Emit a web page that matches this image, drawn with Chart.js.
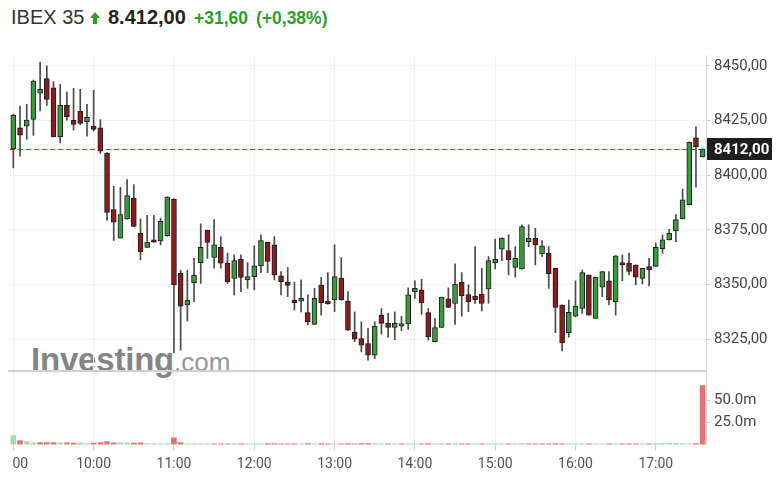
<!DOCTYPE html>
<html>
<head>
<meta charset="utf-8">
<script src="https://cdn.jsdelivr.net/npm/chart.js@4.4.0/dist/chart.umd.min.js"></script>
<style>
    html, body { margin: 0; padding: 0; background: #fff; width: 783px; height: 484px; overflow: hidden; }
    #wrap { position: relative; width: 783px; height: 484px; }
    #box { position: absolute; left: 0; top: 0; width: 783px; height: 484px; z-index: 1; }
    .hd { position: absolute; white-space: nowrap; font-family: Arial, "Liberation Sans", sans-serif; line-height: 20px; }
    #wm { position: absolute; left: 31px; top: 344px; z-index: 0; white-space: nowrap; font-family: Arial, "Liberation Sans", sans-serif; line-height: 32px; }
</style>
</head>
<body>
<div id="wrap">
    <div class="hd" style="left:11px;top:7px;font-size:20px;color:#333">IBEX 35</div>
    <svg class="hd" style="left:90px;top:12px" width="10" height="12" viewBox="0 0 10 12"><path d="M5 0 L10 6 H7 V12 H3 V6 H0 Z" fill="#2c9c2c"/></svg>
    <div class="hd" style="left:108px;top:7px;font-size:20px;font-weight:bold;color:#222">8.412,00</div>
    <div class="hd" style="left:194px;top:8px;font-size:17.5px;font-weight:bold;color:#2f9e2f">+31,60</div>
    <div class="hd" style="left:256px;top:8px;font-size:17.5px;font-weight:bold;color:#2f9e2f">(+0,38%)</div>
    <div id="wm"><span style="font-size:33px;font-weight:bold;color:#858585;letter-spacing:-0.2px">Investing</span><span style="font-size:26px;color:#969696">.com</span></div>
    <div id="box"><canvas id="myChart"></canvas></div>
</div>
<script>
// 5 minute candles, 09:00 - 17:35
const times = [
    "09:00","09:05","09:10","09:15","09:20","09:25","09:30","09:35","09:40","09:45","09:50","09:55",
    "10:00","10:05","10:10","10:15","10:20","10:25","10:30","10:35","10:40","10:45","10:50","10:55",
    "11:00","11:05","11:10","11:15","11:20","11:25","11:30","11:35","11:40","11:45","11:50","11:55",
    "12:00","12:05","12:10","12:15","12:20","12:25","12:30","12:35","12:40","12:45","12:50","12:55",
    "13:00","13:05","13:10","13:15","13:20","13:25","13:30","13:35","13:40","13:45","13:50","13:55",
    "14:00","14:05","14:10","14:15","14:20","14:25","14:30","14:35","14:40","14:45","14:50","14:55",
    "15:00","15:05","15:10","15:15","15:20","15:25","15:30","15:35","15:40","15:45","15:50","15:55",
    "16:00","16:05","16:10","16:15","16:20","16:25","16:30","16:35","16:40","16:45","16:50","16:55",
    "17:00","17:05","17:10","17:15","17:20","17:25","17:30","17:35"
];

const opens = [
    8412.1,8421.7,8422.5,8425.5,8437.6,8444.2,8440.0,8417.6,8432.0,8425.1,8429.2,8424.5,
    8422.5,8421.7,8410.2,8384.3,8371.3,8380.0,8389.6,8373.5,8367.0,8370.5,8370.0,8372.3,
    8389.1,8355.2,8340.7,8350.9,8360.1,8374.8,8362.4,8367.1,8359.8,8352.9,8361.6,8352.2,
    8353.7,8358.6,8369.4,8368.2,8354.0,8351.2,8343.0,8342.5,8337.2,8331.8,8349.8,8342.5,
    8343.0,8352.9,8342.5,8328.2,8325.4,8323.1,8317.8,8336.1,8332.3,8330.4,8331.0,8332.0,
    8346.8,8347.6,8337.2,8323.9,8330.4,8343.5,8341.4,8351.1,8345.5,8344.8,8345.7,8348.0,
    8360.1,8366.2,8365.6,8357.9,8357.2,8369.7,8371.3,8364.1,8364.4,8357.5,8340.7,8328.0,
    8335.6,8339.1,8354.4,8334.6,8348.8,8351.8,8342.2,8360.1,8359.8,8359.0,8352.9,8358.3,
    8358.3,8366.4,8370.5,8374.6,8380.1,8386.6,8417.1,8408.4
];
const highs = [
    8428.0,8431.7,8432.4,8443.5,8451.8,8450.0,8442.7,8441.6,8438.0,8439.8,8439.3,8432.4,
    8438.9,8425.5,8410.4,8395.0,8394.5,8398.0,8395.7,8380.0,8381.7,8381.7,8380.4,8390.1,
    8389.2,8356.7,8356.7,8362.0,8377.8,8374.9,8379.7,8372.0,8364.4,8363.6,8363.6,8360.1,
    8367.8,8372.8,8369.5,8372.0,8356.0,8357.8,8351.2,8352.2,8345.3,8348.3,8353.4,8355.5,
    8368.2,8362.4,8346.8,8337.6,8333.0,8330.0,8333.0,8339.1,8336.9,8337.6,8335.5,8348.6,
    8351.8,8352.4,8339.1,8334.6,8344.3,8348.6,8359.5,8355.5,8349.9,8367.4,8357.5,8362.8,
    8370.8,8371.4,8372.8,8367.4,8377.4,8377.4,8375.8,8370.2,8367.4,8357.6,8340.8,8343.0,
    8351.8,8356.7,8354.5,8353.5,8356.1,8356.0,8363.3,8363.6,8364.4,8359.1,8357.6,8362.0,
    8369.0,8372.8,8375.3,8382.0,8393.7,8415.2,8422.2,8412.1
];
const lows = [
    8403.4,8408.7,8416.4,8418.2,8429.4,8432.0,8417.5,8414.8,8425.2,8420.6,8423.0,8417.9,
    8420.2,8410.0,8379.4,8370.2,8371.2,8379.9,8376.5,8361.3,8366.9,8369.3,8368.2,8372.2,
    8318.8,8320.0,8333.4,8342.2,8350.6,8362.0,8357.5,8357.5,8350.6,8345.3,8346.8,8348.3,
    8347.6,8355.5,8355.5,8352.2,8345.3,8344.5,8338.4,8337.5,8331.6,8331.7,8336.0,8341.1,
    8337.6,8342.9,8329.1,8323.9,8319.3,8315.5,8316.2,8327.4,8326.0,8324.9,8329.0,8329.5,
    8343.7,8336.4,8324.6,8323.8,8330.3,8339.5,8331.8,8335.6,8337.6,8341.4,8338.0,8341.4,
    8357.2,8361.0,8354.4,8353.4,8357.1,8367.4,8359.0,8362.8,8348.3,8328.0,8319.7,8326.0,
    8335.3,8336.9,8336.0,8334.5,8344.5,8340.7,8336.1,8351.8,8354.4,8349.9,8350.3,8349.4,
    8358.2,8364.4,8370.4,8369.7,8380.0,8386.5,8394.6,8408.3
];
const closes = [
    8427.4,8418.3,8425.2,8443.1,8439.3,8434.7,8417.6,8432.0,8426.8,8423.3,8423.7,8426.5,
    8421.0,8411.0,8383.0,8378.6,8382.0,8390.7,8376.6,8365.1,8369.4,8369.4,8378.9,8390.0,
    8349.9,8340.2,8342.9,8354.4,8367.1,8369.3,8368.2,8359.8,8351.4,8361.0,8353.3,8353.7,
    8358.6,8370.2,8360.6,8354.4,8351.4,8349.7,8341.7,8343.7,8333.0,8343.7,8341.7,8341.2,
    8353.7,8343.0,8329.2,8325.1,8322.3,8317.8,8331.1,8332.3,8330.4,8332.3,8332.2,8345.3,
    8348.3,8341.7,8326.1,8330.4,8344.2,8339.6,8350.3,8344.8,8342.2,8343.0,8341.4,8361.0,
    8361.6,8371.3,8361.3,8362.0,8376.6,8371.3,8368.2,8367.8,8354.9,8339.6,8323.4,8337.3,
    8340.2,8355.5,8336.1,8353.4,8356.0,8343.0,8363.2,8359.0,8356.0,8353.4,8357.5,8356.7,
    8367.1,8370.5,8373.5,8379.7,8388.8,8415.1,8413.0,8412.0
];
// volume in millions
const volumes = [
    10.2,4.5,3.4,2.0,2.3,2.3,2.3,2.0,2.0,1.8,2.0,1.2,
    1.6,2.3,3.4,2.0,2.0,2.0,1.6,2.0,1.2,1.0,1.0,1.2,
    7.6,2.3,1.0,1.0,0.9,0.8,0.9,1.0,0.9,1.1,0.9,0.8,
    0.9,1.0,1.1,1.2,0.9,1.0,0.8,0.9,1.1,1.0,1.2,0.9,
    1.0,0.9,1.1,1.0,1.1,1.2,1.1,0.9,0.8,0.9,0.8,1.0,
    0.8,0.9,1.2,0.9,1.1,0.8,1.2,1.0,0.9,0.8,1.0,0.9,
    1.1,0.8,0.9,0.8,1.3,0.8,0.9,0.8,1.0,1.1,1.0,0.9,
    0.8,1.0,0.9,0.9,0.8,0.9,1.0,0.8,0.9,0.8,0.8,0.9,
    1.1,1.3,1.4,1.3,1.2,1.0,1.1,67.0
];
const prevClose = 8380.4;
const priceTicks = [8325, 8350, 8375, 8400, 8425, 8450];
const volumeTicks = [25, 50];

const lastPrice = closes[closes.length - 1];
const fmt = v => v.toFixed(2).replace(".", ",");

const bodyColors = closes.map((c, i) => c >= opens[i] ? "#3c9a3c" : "#8a1c1c");
const volColors = closes.map((c, i) => c >= (i ? closes[i - 1] : prevClose) ? "rgba(120,195,150,0.65)" : "rgba(222,92,92,0.85)");

const hourOnly = (ctx, on, off) => (ctx.index % 12 === 0 ? on : off);

const overlay = {
    id: "overlay",
    beforeDatasetsDraw(chart) {
        const {ctx, chartArea, scales} = chart;
        const y = Math.round(scales.y.getPixelForValue(lastPrice)) + 0.5;
        ctx.save();
        ctx.strokeStyle = "#d42a2a";
        ctx.lineWidth = 1;
        ctx.setLineDash([5, 3]);
        ctx.beginPath();
        ctx.moveTo(chartArea.left, y);
        ctx.lineTo(chartArea.right, y);
        ctx.stroke();
        ctx.restore();
    },
    afterDraw(chart) {
        const {ctx, chartArea, scales} = chart;
        // separator between price and volume panes
        const sy = Math.round(scales.yv.top);
        ctx.save();
        ctx.fillStyle = "#d0d0d0";
        ctx.fillRect(chartArea.left - 2, sy - 1, chartArea.right - chartArea.left + 2, 2);
        // last price tag
        const y = scales.y.getPixelForValue(lastPrice);
        ctx.fillStyle = "#1e1e1e";
        ctx.fillRect(chartArea.right + 1, Math.round(y) - 11, 65, 22);
        ctx.fillStyle = "#fff";
        ctx.font = "bold 15px Roboto";
        ctx.textBaseline = "middle";
        ctx.fillText(fmt(lastPrice), chartArea.right + 8, y + 1);
        ctx.restore();
    }
};

const ctx = document.getElementById("myChart");

new Chart(ctx, {
    type: "bar",
    data: {
        labels: times,
        datasets: [{
            label: "body",
            data: opens.map((o, i) => [o, closes[i]]),
            yAxisID: "y",
            backgroundColor: bodyColors,
            borderColor: "#1e1e1e",
            borderWidth: 1,
            borderSkipped: false,
            barThickness: 5,
            grouped: false,
            order: 0
        }, {
            label: "wick",
            data: lows.map((l, i) => [l, highs[i]]),
            yAxisID: "y",
            backgroundColor: "#4a4a4a",
            barThickness: 1,
            grouped: false,
            order: 1
        }, {
            label: "volume",
            data: volumes,
            yAxisID: "yv",
            backgroundColor: volColors,
            barThickness: 5,
            grouped: false,
            order: 2
        }]
    },
    options: {
        responsive: true,
        maintainAspectRatio: false,
        animation: false,
        events: [],
        layout: {padding: {top: 55, left: 10, right: 0, bottom: 5}},
        plugins: {legend: {display: false}, tooltip: {enabled: false}},
        scales: {
            x: {
                afterFit: s => { s.paddingLeft = 0; },
                grid: {
                    offset: false,
                    color: c => hourOnly(c, "#f1f1f1", "rgba(0,0,0,0)"),
                    tickColor: c => hourOnly(c, "#cfcfcf", "rgba(0,0,0,0)"),
                    tickLength: 6
                },
                border: {display: false},
                ticks: {
                    autoSkip: false,
                    maxRotation: 0,
                    minRotation: 0,
                    padding: 3,
                    color: "#555",
                    font: {family: "Roboto", size: 14, lineHeight: 1.6},
                    // the 09:00 label is cut at the plot edge in the original, only "00" shows
                    callback: (v, i) => i % 12 ? "" : (i === 0 ? "    " + times[i].slice(3) : times[i])
                }
            },
            y: {
                position: "right",
                stack: "panes",
                stackWeight: 316,
                min: 8310.3,
                max: 8455,
                afterBuildTicks: s => { s.ticks = priceTicks.map(v => ({value: v})); },
                afterFit: s => { s.width = 77; },
                grid: {color: "#f2f2f2", tickColor: "#c8c8c8", tickLength: 4},
                border: {color: "#dcdcdc"},
                ticks: {
                    padding: 4,
                    color: "#444",
                    font: {family: "Roboto", size: 15},
                    callback: v => fmt(v)
                }
            },
            yv: {
                position: "right",
                stack: "panes",
                stackWeight: 73,
                min: 0,
                max: 83,
                afterBuildTicks: s => { s.ticks = volumeTicks.map(v => ({value: v})); },
                afterFit: s => { s.width = 77; },
                grid: {drawOnChartArea: false, tickColor: "#c8c8c8", tickLength: 4},
                border: {color: "#dcdcdc"},
                ticks: {
                    padding: 4,
                    color: "#444",
                    font: {family: "Roboto", size: 15},
                    callback: v => v.toFixed(1) + "m"
                }
            }
        }
    },
    plugins: [overlay]
});
</script>
</body>
</html>
